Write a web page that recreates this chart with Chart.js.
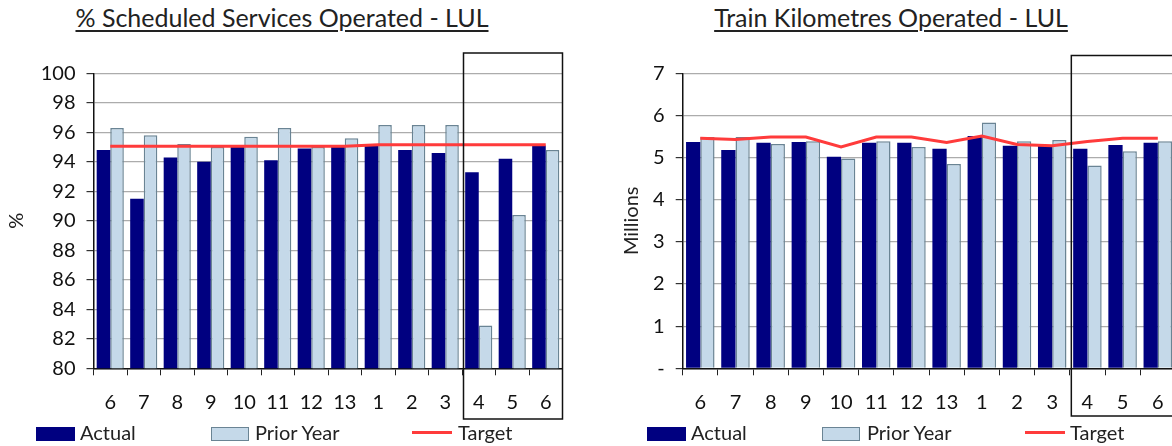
<!DOCTYPE html>
<html>
<head>
<meta charset="utf-8">
<script src="https://cdn.jsdelivr.net/npm/chart.js@4"></script>
<style>
  html, body { margin: 0; padding: 0; background: #fff; }
  body { width: 1172px; height: 446px; overflow: hidden; position: relative; font-family: Lato, "Open Sans", sans-serif; color: #111; }
  .title { position: absolute; top: 1px; font-size: 25px; line-height: 32px; text-decoration: underline; text-decoration-thickness: 1.5px; text-underline-offset: 3px; white-space: nowrap; text-align: center; color: #222; }
  canvas { position: absolute; top: 0; }
  .sw { position: absolute; box-sizing: border-box; }
  .lt { position: absolute; font-size: 20px; line-height: 24px; top: 420px; white-space: nowrap; color: #222; }
</style>
</head>
<body>
<div class="title" style="left:32px;width:500px;">% Scheduled Services Operated - LUL</div>
<div class="title" style="left:641px;width:500px;">Train Kilometres Operated - LUL</div>

<canvas id="sso" width="590" height="446" style="left:0;width:590px;height:446px;"></canvas>
<canvas id="tkm" width="600" height="446" style="left:590px;width:600px;height:446px;"></canvas>

<!-- legend, left chart -->
<div class="sw" style="left:36px;top:426.5px;width:39px;height:14px;background:#000080;"></div>
<div class="lt" style="left:80px;">Actual</div>
<div class="sw" style="left:210.5px;top:426.5px;width:38px;height:14px;background:#c5d9e9;border:1.5px solid #6a8494;"></div>
<div class="lt" style="left:255px;">Prior Year</div>
<div class="sw" style="left:412px;top:431px;width:40px;height:3px;background:#ff3b3b;"></div>
<div class="lt" style="left:458px;">Target</div>

<!-- legend, right chart -->
<div class="sw" style="left:646.5px;top:426.5px;width:39px;height:14px;background:#000080;"></div>
<div class="lt" style="left:691px;">Actual</div>
<div class="sw" style="left:822px;top:426.5px;width:38px;height:14px;background:#c5d9e9;border:1.5px solid #6a8494;"></div>
<div class="lt" style="left:867px;">Prior Year</div>
<div class="sw" style="left:1025px;top:431px;width:40px;height:3px;background:#ff3b3b;"></div>
<div class="lt" style="left:1070px;">Target</div>

<script>
// Rail periods shown on both charts
const periods = ['6', '7', '8', '9', '10', '11', '12', '13', '1', '2', '3', '4', '5', '6'];

// % Scheduled Services Operated
const ssoActual = [94.8, 91.5, 94.3, 94.0, 95.0, 94.1, 94.9, 95.0, 95.1, 94.8, 94.6, 93.3, 94.2, 95.1];
const ssoPrior  = [96.3, 95.8, 95.2, 95.0, 95.7, 96.3, 95.0, 95.6, 96.5, 96.5, 96.5, 82.9, 90.4, 94.8];
const ssoTarget = [95.05, 95.05, 95.05, 95.05, 95.05, 95.05, 95.05, 95.05, 95.15, 95.15, 95.15, 95.15, 95.15, 95.15];

// Train kilometres operated (millions)
const tkmActual = [5.37, 5.18, 5.35, 5.37, 5.02, 5.35, 5.35, 5.21, 5.51, 5.28, 5.28, 5.21, 5.30, 5.35];
const tkmPrior  = [5.49, 5.49, 5.32, 5.39, 4.98, 5.39, 5.25, 4.85, 5.83, 5.39, 5.42, 4.81, 5.15, 5.39];
const tkmTarget = [5.46, 5.43, 5.49, 5.49, 5.25, 5.49, 5.49, 5.36, 5.51, 5.31, 5.28, 5.38, 5.46, 5.46];
const tkmTickLabels = ['-', '1', '2', '3', '4', '5', '6', '7'];

// First period of the current year (start of the highlighted box)
const currentYearStart = 11;

const FONT = { family: 'Lato, "Open Sans", sans-serif', size: 20 };
const NAVY = '#000080';
const PALE = '#c5d9e9';
const PALE_EDGE = '#6a8494';
const RED = '#ff3b3b';

// Frame around the current-year periods, from above the plot down past the labels
const yearBox = {
  id: 'yearBox',
  afterDraw(chart, args, opts) {
    const x = chart.scales.x;
    const a = x.getPixelForValue(currentYearStart - 1);
    const b = x.getPixelForValue(currentYearStart);
    const left = (a + b) / 2 + 1.5;
    const right = opts.toEdge ? chart.width + 5 : chart.chartArea.right;
    const ctx = chart.ctx;
    ctx.save();
    ctx.strokeStyle = '#111';
    ctx.lineWidth = 1.5;
    ctx.strokeRect(left, opts.top, right - left, opts.bottom - opts.top);
    ctx.restore();
  }
};

function buildChart(id, actual, prior, target, yOpts, pad, axisWidth, title, titleOffset, boxOpts) {
  return new Chart(document.getElementById(id), {
    type: 'bar',
    data: {
      labels: periods,
      datasets: [
        { type: 'line', label: 'Target', data: target, borderColor: RED, borderWidth: 3,
          pointRadius: 0, tension: 0, fill: false, order: 0 },
        { label: 'Actual', data: actual, backgroundColor: NAVY, borderWidth: 0, order: 1,
          barPercentage: 1, categoryPercentage: 0.81 },
        { label: 'Prior Year', data: prior, backgroundColor: PALE, borderColor: PALE_EDGE,
          borderWidth: 1.5, order: 1, barPercentage: 1, categoryPercentage: 0.81 }
      ]
    },
    options: {
      responsive: false,
      animation: false,
      events: [],
      layout: { padding: pad },
      plugins: { legend: { display: false }, tooltip: { enabled: false }, yearBox: boxOpts },
      scales: {
        x: {
          offset: true,
          grid: { drawOnChartArea: false, drawTicks: true, tickLength: 7, tickColor: '#222', offset: true },
          border: { display: true, color: '#111', width: 1.5 },
          ticks: { color: '#111', font: FONT, padding: 15, maxRotation: 0, autoSkip: false },
          afterFit(s) { s.height = 50; }
        },
        y: Object.assign({
          grid: { color: '#acacac', lineWidth: 1.2, tickLength: 7, tickColor: '#333' },
          border: { display: true, color: '#111', width: 1.5 },
          title: { display: true, text: title, color: '#222', font: FONT, padding: { top: titleOffset, bottom: 0 } },
          afterFit(s) { s.width = axisWidth; }
        }, yOpts)
      }
    },
    plugins: [yearBox]
  });
}

buildChart('sso', ssoActual, ssoPrior, ssoTarget,
  { min: 80, max: 100, ticks: { stepSize: 2, color: '#111', font: FONT, padding: 11 } },
  { top: 73.3, right: 27.5, bottom: 27.7, left: 0 }, 93.5, '%', 5,
  { top: 53, bottom: 419, toEdge: false });

buildChart('tkm', tkmActual, tkmPrior, tkmTarget,
  { min: 0, max: 7, ticks: { stepSize: 1, color: '#111', font: FONT, padding: 11,
      callback: (v) => tkmTickLabels[v] } },
  { top: 73.3, right: 14.6, bottom: 27.7, left: 0 }, 92.7, 'Millions', 30,
  { top: 55.5, bottom: 416, toEdge: true });
</script>
</body>
</html>
